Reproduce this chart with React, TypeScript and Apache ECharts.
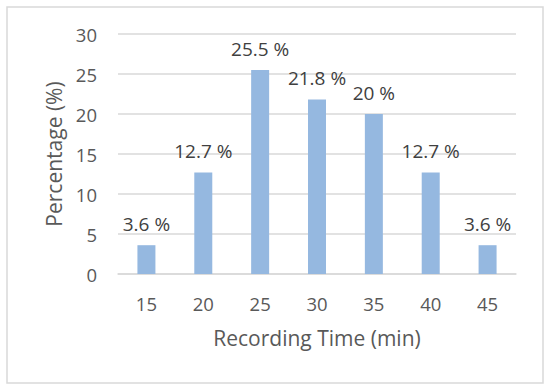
import React, { useEffect, useRef } from "react";
import * as echarts from "echarts";

const categories = ["15", "20", "25", "30", "35", "40", "45"];
const percentages = [3.6, 12.7, 25.5, 21.8, 20, 12.7, 3.6];
const yTicks = { min: 0, max: 30, interval: 5 };

const FONT = "Open Sans";
const TEXT = "#595959";

export default function App() {
  const ref = useRef<HTMLDivElement>(null);
  useEffect(() => {
    const chart = echarts.init(ref.current!, null, { renderer: "svg" });
    chart.setOption({
      animation: false,
      backgroundColor: "#ffffff",
      graphic: [
        {
          type: "rect",
          shape: { x: 7, y: 7, width: 536, height: 376 },
          style: { fill: "none", stroke: "#D9D9D9", lineWidth: 1.5 },
          z: -1,
        },
      ],
      grid: { left: 118, right: 34, top: 34, bottom: 116 },
      xAxis: {
        type: "category",
        data: categories,
        name: "Recording Time (min)",
        nameLocation: "middle",
        nameGap: 53,
        nameTextStyle: { fontFamily: FONT, fontSize: 21, color: TEXT },
        axisLine: { lineStyle: { color: "#D9D9D9", width: 1.5 } },
        axisTick: { show: false },
        axisLabel: { fontFamily: FONT, fontSize: 18.5, color: TEXT, margin: 20 },
      },
      yAxis: {
        type: "value",
        min: yTicks.min,
        max: yTicks.max,
        interval: yTicks.interval,
        name: "Percentage (%)",
        nameLocation: "middle",
        nameGap: 54,
        nameTextStyle: { fontFamily: FONT, fontSize: 21, color: TEXT },
        axisLine: { show: false },
        axisTick: { show: false },
        splitLine: { lineStyle: { color: "#D9D9D9", width: 1.5 } },
        axisLabel: { fontFamily: FONT, fontSize: 18.5, color: TEXT, margin: 21 },
      },
      series: [
        {
          type: "bar",
          data: percentages,
          barWidth: 18,
          itemStyle: { color: "#95B8E0" },
          label: {
            show: true,
            position: "top",
            distance: 12,
            formatter: "{c} %",
            fontFamily: FONT,
            fontSize: 19,
            color: "#404040",
          },
        },
      ],
    });
    return () => chart.dispose();
  }, []);
  return (
    <div
      ref={ref}
      style={{ position: "fixed", left: 0, top: 0, width: 550, height: 390 }}
    />
  );
}
